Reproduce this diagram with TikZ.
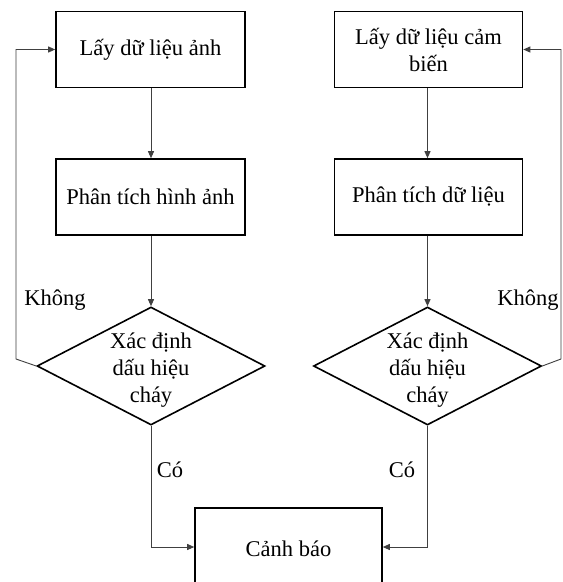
\documentclass[tikz,border=0pt]{standalone}
\usepackage{fontspec}
\setmainfont{Liberation Serif}
\usetikzlibrary{shapes.geometric,arrows.meta}
\begin{document}
\begin{tikzpicture}[x=1pt,y=-1pt,
  font=\fontsize{22.5}{27}\selectfont,
  box/.style={draw=black, line width=1.6pt, minimum width=189pt, minimum height=76pt, inner sep=0pt, align=center},
  dia/.style={draw=black, diamond, line width=1.6pt, minimum width=228pt, minimum height=118pt, inner sep=0pt},
  dtext/.style={label={[align=center,inner sep=0pt,yshift=-4pt]center:Xác định\\dấu hiệu\\cháy}},
  conn/.style={draw=black!75, line width=0.9pt, -{Triangle[length=7pt,width=6pt]}},
  lbl/.style={inner sep=0pt}]
\useasboundingbox (0,0) rectangle (563,582);
\clip (0,0) rectangle (563,582);
\fill[white] (0,0) rectangle (563,582);
% nodes
\node[box] (l1) at (150.5,49.5) {Lấy dữ liệu ảnh};
\node[box] (l2) at (150.5,197) {Phân tích hình ảnh};
\node[dia, dtext] (dl) at (151,366) {};
\node[box, minimum width=188pt] (r1) at (428.5,49.5) {Lấy dữ liệu cảm\\biến};
\node[box, minimum width=188pt] (r2) at (428.5,197) {Phân tích dữ liệu};
\node[dia, dtext] (dr) at (427.5,366) {};
\node[box, minimum width=187pt, minimum height=82pt] (cb) at (288.5,549) {Cảnh báo};
% helper coordinates
\coordinate (lk) at (16,359);
\coordinate (rk) at (561,359);
\coordinate (lc) at (151,547);
\coordinate (rc) at (427.5,547);
% connectors
\draw[conn] (l1.south -| dl.north) -- (dl.north |- l2.north);
\draw[conn] (l2.south -| dl.north) -- (dl.north);
\draw[conn] (r1.south -| dr.north) -- (dr.north |- r2.north);
\draw[conn] (r2.south -| dr.north) -- (dr.north);
\draw[conn] (dl.west) -- (lk) |- (l1.west);
\draw[conn] (dr.east) -- (rk) |- (r1.east);
\draw[conn] (dl.south) -- (lc) -- (lc -| cb.west);
\draw[conn] (dr.south) -- (rc) -- (rc -| cb.east);
% labels
\node[lbl] (kl) at (55,300) {Không};
\node[lbl] (kr) at (528,300) {Không};
\node[lbl] (cl) at (170,470) {Có};
\node[lbl] (cr) at (402,470) {Có};
\end{tikzpicture}
\end{document}
